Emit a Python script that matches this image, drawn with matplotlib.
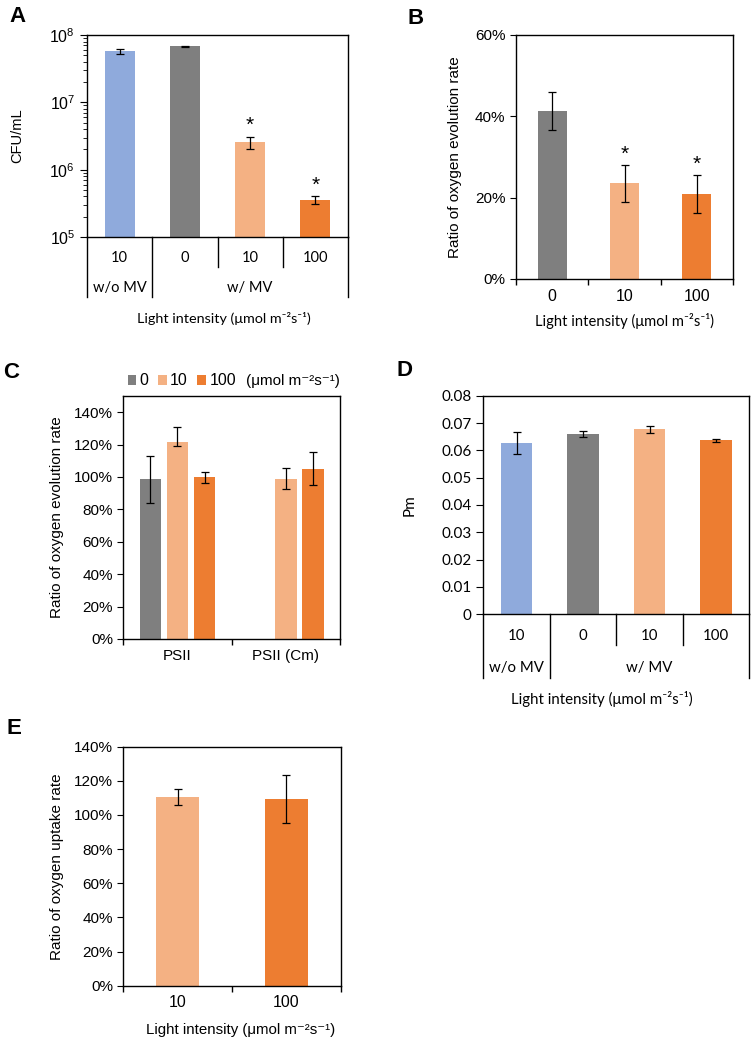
import matplotlib.pyplot as plt
import numpy as np
from matplotlib.ticker import PercentFormatter, LogLocator, FuncFormatter, NullFormatter

plt.rcParams['font.family'] = ['Liberation Sans', 'DejaVu Sans']
CAL = ['Lato', 'DejaVu Sans']

W, H = 752, 1039

blue = '#8FAADC'
gray = '#7F7F7F'
light = '#F4B183'
dark = '#ED7D31'

# A - CFU
a_labels = ['10', '0', '10', '100']
a_groups = ['w/o MV', 'w/ MV']
a_cfu = [5.8e7, 6.8e7, 2.55e6, 3.6e5]
a_err = [0.5e7, 0.1e7, 0.55e6, 0.5e5]
a_sig = [False, False, True, True]

# B - O2 evolution ratio
b_labels = ['0', '10', '100']
b_ratio = [41.3, 23.5, 20.9]
b_err = [4.7, 4.6, 4.6]
b_sig = [False, True, True]

# C - PSII
c_groups = ['PSII', 'PSII (Cm)']
c_series = ['0', '10', '100']
c_0 = [98.6, np.nan]
c_0_err = [14.5, np.nan]
c_10 = [121.8, 98.8]
c_10_err_lo = [2.6, 6.5]
c_10_err_hi = [9.0, 6.5]
c_100 = [99.8, 105.1]
c_100_err = [3.2, 10.1]

# D - Pm
d_labels = ['10', '0', '10', '100']
d_pm = [0.0627, 0.0660, 0.0677, 0.0637]
d_err = [0.0040, 0.0011, 0.0013, 0.0006]

# E - O2 uptake ratio
e_labels = ['10', '100']
e_ratio = [110.4, 109.4]
e_err = [4.7, 14.3]

unit = '(μmol m⁻²s⁻¹)'
xlab = 'Light intensity ' + unit
ekw = dict(ecolor='black', elinewidth=0.9, capsize=3, capthick=0.9)


def box(l, t, r, b):
    return [l / W, 1 - b / H, (r - l) / W, (b - t) / H]


def frame(ax):
    for s in ax.spines.values():
        s.set_linewidth(1.0)
        s.set_color('black')


def table(ax, full, part, dfull, dpart, labels, row1, groups, gpos, row2, fs):
    tr = ax.get_xaxis_transform()
    for x in full:
        ax.plot([x, x], [0, -dfull], color='black', lw=1.0, transform=tr, clip_on=False)
    for x in part:
        ax.plot([x, x], [0, -dpart], color='black', lw=1.0, transform=tr, clip_on=False)
    for i, l in enumerate(labels):
        ax.text(i, row1, l, transform=tr, ha='center', va='center', family=CAL, fontsize=fs)
    for g, p in zip(groups, gpos):
        ax.text(p, row2, g, transform=tr, ha='center', va='center', family=CAL, fontsize=fs)


def star(ax, xs, vals, errs, sig, off):
    for x, v, e, s in zip(xs, vals, errs, sig):
        if s:
            ax.annotate('*', (x, v + e), xytext=(0, off), textcoords='offset points',
                        ha='center', va='bottom', fontsize=15)


def cat_ticks(ax, n, labels, fs):
    ax.set_xticks(np.arange(n + 1) - 0.5)
    ax.set_xticklabels([])
    ax.set_xticks(np.arange(n), labels, minor=True)
    ax.tick_params(axis='x', which='major', direction='out', length=4, width=1)
    ax.tick_params(axis='x', which='minor', length=0, pad=7, labelsize=fs)


fig = plt.figure(figsize=(W / 100, H / 100), dpi=100)

# ---- A
axA = fig.add_axes(box(87, 35, 348, 237))
x = np.arange(len(a_cfu))
axA.bar(x, a_cfu, width=0.46, color=[blue, gray, light, dark], yerr=a_err, error_kw=ekw)
axA.set_yscale('log')
axA.set_ylim(1e5, 1e8)
axA.set_xlim(-0.5, 3.5)
axA.yaxis.set_minor_locator(LogLocator(subs=np.arange(2, 10)))
axA.yaxis.set_minor_formatter(NullFormatter())
axA.tick_params(axis='x', bottom=False, labelbottom=False)
axA.tick_params(axis='y', which='major', direction='out', length=5, labelsize=11.5)
axA.tick_params(axis='y', which='minor', direction='out', length=3)
frame(axA)
table(axA, [-0.5, 0.5, 3.5], [1.5, 2.5], 0.297, 0.149, a_labels, -0.104,
      a_groups, [0, 2], -0.252, 10.5)
axA.text(0.525, -0.401, xlab, transform=axA.transAxes, ha='center', va='center',
         family=CAL, fontsize=10.4)
axA.text(-0.268, 0.5, 'CFU/mL', transform=axA.transAxes, ha='center', va='center',
         rotation=90, fontsize=10.5)
star(axA, x, a_cfu, a_err, a_sig, 1)

# ---- B
axB = fig.add_axes(box(516, 35, 733, 279))
x = np.arange(len(b_ratio))
axB.bar(x, b_ratio, width=0.4, color=[gray, light, dark], yerr=b_err, error_kw=ekw)
axB.set_xlim(-0.5, 2.5)
axB.set_ylim(0, 60)
axB.set_yticks([0, 20, 40, 60])
axB.yaxis.set_major_formatter(PercentFormatter(decimals=0))
axB.tick_params(axis='y', direction='out', length=4, labelsize=11)
cat_ticks(axB, 3, b_labels, 11.5)
frame(axB)
axB.text(0.5, -0.172, xlab, transform=axB.transAxes, ha='center', va='center',
         family=CAL, fontsize=10.6)
axB.text(-0.281, 0.5, 'Ratio of oxygen evolution rate', transform=axB.transAxes,
         ha='center', va='center', rotation=90, fontsize=11)
star(axB, x, b_ratio, b_err, b_sig, 1)

# ---- C
axC = fig.add_axes(box(123.3, 396, 340, 639))
x = np.arange(len(c_groups))
axC.bar(x - 0.25, c_0, width=0.2, color=gray, label=c_series[0],
        yerr=c_0_err, error_kw=ekw)
axC.bar(x, c_10, width=0.2, color=light, label=c_series[1],
        yerr=[c_10_err_lo, c_10_err_hi], error_kw=ekw)
axC.bar(x + 0.25, c_100, width=0.2, color=dark, label=c_series[2],
        yerr=c_100_err, error_kw=ekw)
axC.set_xlim(-0.5, 1.5)
axC.set_ylim(0, 150)
axC.set_yticks(np.arange(0, 141, 20))
axC.yaxis.set_major_formatter(PercentFormatter(decimals=0))
axC.tick_params(axis='y', direction='out', length=4, labelsize=11)
cat_ticks(axC, 2, c_groups, 11)
frame(axC)
axC.legend(ncol=3, loc='center left', bbox_to_anchor=(0.02, 1.062), frameon=False,
           fontsize=11.5, handlelength=0.55, handleheight=0.55, handletextpad=0.2,
           columnspacing=0.6, borderaxespad=0, borderpad=0)
axC.text(1.0, 1.062, unit, transform=axC.transAxes, ha='right', va='center', fontsize=11)
axC.text(-0.307, 0.5, 'Ratio of oxygen evolution rate', transform=axC.transAxes,
         ha='center', va='center', rotation=90, fontsize=11)

# ---- D
axD = fig.add_axes(box(483.3, 395.7, 749.3, 614.3))
x = np.arange(len(d_pm))
axD.bar(x, d_pm, width=0.47, color=[blue, gray, light, dark], yerr=d_err, error_kw=ekw)
axD.set_xlim(-0.5, 3.5)
axD.set_ylim(0, 0.08)
axD.set_yticks(np.arange(0, 0.081, 0.01))
axD.yaxis.set_major_formatter(FuncFormatter(lambda v, p: '0' if v == 0 else f'{v:.2f}'))
axD.tick_params(axis='x', bottom=False, labelbottom=False)
axD.tick_params(axis='y', direction='out', length=5, labelsize=11)
for t in axD.get_yticklabels():
    t.set_family(CAL)
frame(axD)
table(axD, [-0.5, 0.5, 3.5], [1.5, 2.5], 0.291, 0.140, d_labels, -0.097,
      a_groups, [0, 2], -0.245, 10.8)
axD.text(0.446, -0.387, xlab, transform=axD.transAxes, ha='center', va='center',
         family=CAL, fontsize=10.8)
axD.text(-0.276, 0.5, 'Pm', transform=axD.transAxes, ha='center', va='center',
         rotation=90, family=CAL, fontsize=11)

# ---- E
axE = fig.add_axes(box(123.3, 746.7, 340.7, 985.7))
x = np.arange(len(e_ratio))
axE.bar(x, e_ratio, width=0.4, color=[light, dark], yerr=e_err, error_kw=ekw)
axE.set_xlim(-0.5, 1.5)
axE.set_ylim(0, 140)
axE.set_yticks(np.arange(0, 141, 20))
axE.yaxis.set_major_formatter(PercentFormatter(decimals=0))
axE.tick_params(axis='y', direction='out', length=4, labelsize=11)
cat_ticks(axE, 2, e_labels, 11.5)
frame(axE)
axE.text(0.541, -0.185, xlab, transform=axE.transAxes, ha='center', va='center',
         fontsize=10.8)
axE.text(-0.307, 0.5, 'Ratio of oxygen uptake rate', transform=axE.transAxes,
         ha='center', va='center', rotation=90, fontsize=11)

# panel letters
for lt, (px_, py_) in zip('ABCDE', [(17, 17), (416, 18), (11, 372), (405, 370), (14, 728)]):
    fig.text(px_ / W, 1 - py_ / H, lt, ha='center', va='center', fontsize=16,
             fontweight='bold')

fig.savefig('out.png', dpi=100)
